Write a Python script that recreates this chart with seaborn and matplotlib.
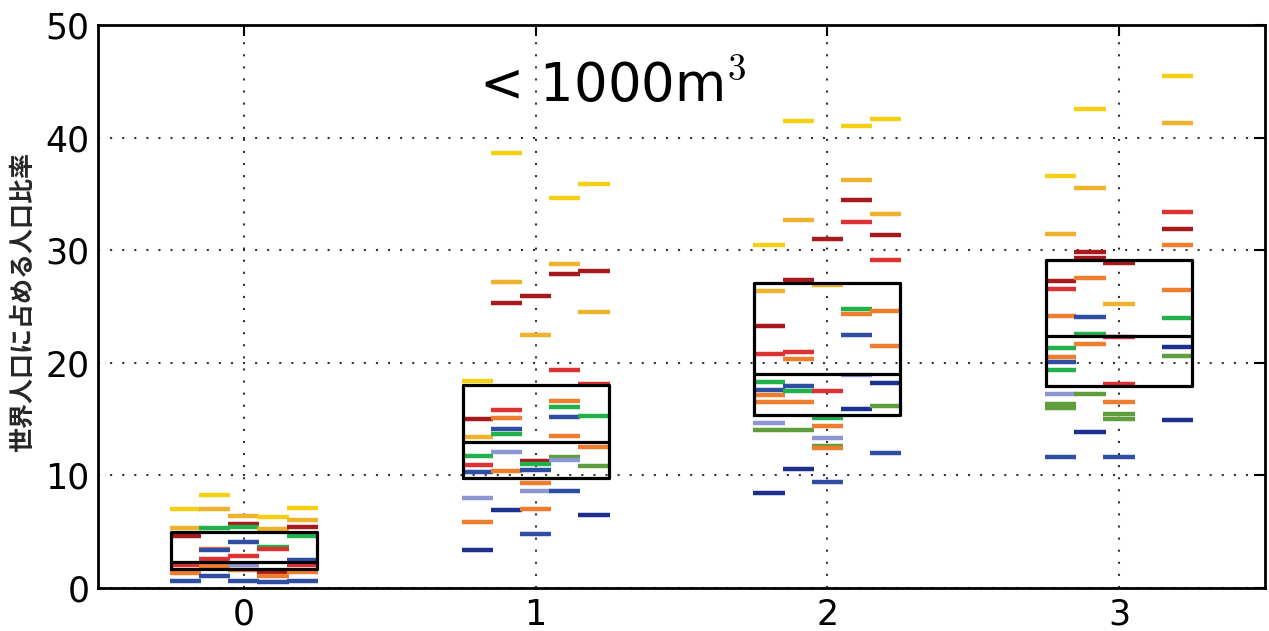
import numpy as np
import pandas as pd
import matplotlib
matplotlib.use("Agg")
import matplotlib.pyplot as plt
import seaborn as sns

# ---------------- data ----------------
categories = [0, 1, 2, 3]
tick_labels = ["0", "1", "2", "3"]
y_ticks = [0, 10, 20, 30, 40, 50]
title_text = "< 1000m$^3$"
y_label = "世界人口に占める人口比率"

palette = {
    "yellow": "#f4cf12",
    "amber": "#f0b22a",
    "orange": "#ee7d2e",
    "red": "#dc3232",
    "darkred": "#a6191d",
    "green": "#20b24a",
    "olive": "#5e9e3c",
    "blue": "#2d4ea3",
    "lightblue": "#8c97d2",
    "navy": "#1d2f8f",
}

# (column within group 0..4, colour key, value)
g0_dashes = [
    (0, "yellow", 7.0), (0, "amber", 5.35), (0, "darkred", 4.62), (0, "red", 2.05),
    (0, "orange", 1.3), (0, "blue", 0.62),
    (1, "yellow", 8.3), (1, "amber", 7.0), (1, "green", 5.3), (1, "orange", 3.5),
    (1, "blue", 3.35), (1, "red", 2.6), (1, "orange", 2.0), (1, "blue", 1.1),
    (2, "amber", 6.4), (2, "darkred", 5.7), (2, "green", 5.4), (2, "blue", 4.05),
    (2, "red", 2.85), (2, "lightblue", 2.05), (2, "orange", 1.6), (2, "blue", 0.65),
    (3, "yellow", 6.3), (3, "amber", 5.2), (3, "green", 3.6), (3, "red", 3.45),
    (3, "darkred", 1.4), (3, "orange", 1.05), (3, "blue", 0.55),
    (4, "yellow", 7.15), (4, "amber", 6.05), (4, "darkred", 5.4), (4, "green", 4.6),
    (4, "blue", 2.5), (4, "red", 2.05), (4, "orange", 1.45), (4, "blue", 0.65),
]
g1_dashes = [
    (0, "yellow", 18.4), (0, "darkred", 15.0), (0, "amber", 13.4), (0, "green", 11.7),
    (0, "red", 10.9), (0, "blue", 10.3), (0, "lightblue", 8.0), (0, "orange", 5.9),
    (0, "navy", 3.4),
    (1, "yellow", 38.6), (1, "amber", 27.2), (1, "darkred", 25.3), (1, "red", 15.8),
    (1, "orange", 15.1), (1, "blue", 14.1), (1, "green", 13.7), (1, "lightblue", 12.1),
    (1, "orange", 10.4), (1, "navy", 6.95),
    (2, "darkred", 25.9), (2, "amber", 22.5), (2, "darkred", 11.25), (2, "green", 11.0),
    (2, "blue", 10.5), (2, "orange", 9.35), (2, "lightblue", 8.65), (2, "orange", 7.0),
    (2, "blue", 4.8),
    (3, "yellow", 34.6), (3, "amber", 28.8), (3, "darkred", 27.9), (3, "red", 19.4),
    (3, "orange", 16.6), (3, "green", 16.1), (3, "blue", 15.2), (3, "orange", 13.5),
    (3, "olive", 11.6), (3, "lightblue", 11.4), (3, "blue", 8.6),
    (4, "yellow", 35.9), (4, "darkred", 28.2), (4, "amber", 24.5), (4, "red", 18.1),
    (4, "green", 15.3), (4, "orange", 12.5), (4, "olive", 10.8), (4, "navy", 6.5),
]
g2_dashes = [
    (0, "yellow", 30.5), (0, "amber", 26.4), (0, "darkred", 23.3), (0, "red", 20.8),
    (0, "green", 18.3), (0, "blue", 17.6), (0, "orange", 17.1), (0, "orange", 16.5),
    (0, "lightblue", 14.7), (0, "olive", 14.0), (0, "navy", 8.4),
    (1, "yellow", 41.5), (1, "amber", 32.7), (1, "darkred", 27.4), (1, "red", 21.0),
    (1, "orange", 20.3), (1, "blue", 17.9), (1, "green", 17.5), (1, "orange", 16.5),
    (1, "olive", 14.0), (1, "navy", 10.6),
    (2, "darkred", 31.0), (2, "amber", 26.9), (2, "red", 17.5), (2, "green", 15.1),
    (2, "orange", 14.4), (2, "lightblue", 13.3), (2, "olive", 12.6), (2, "orange", 12.4),
    (2, "blue", 9.45),
    (3, "yellow", 41.05), (3, "amber", 36.2), (3, "darkred", 34.5), (3, "red", 32.5),
    (3, "green", 24.8), (3, "orange", 24.3), (3, "blue", 22.5), (3, "lightblue", 18.9),
    (3, "navy", 15.9),
    (4, "yellow", 41.7), (4, "amber", 33.2), (4, "darkred", 31.35), (4, "red", 29.1),
    (4, "orange", 24.6), (4, "orange", 21.5), (4, "navy", 18.2), (4, "olive", 16.2),
    (4, "blue", 11.95),
]
g3_dashes = [
    (0, "yellow", 36.6), (0, "amber", 31.4), (0, "darkred", 27.3), (0, "red", 26.6),
    (0, "orange", 24.2), (0, "green", 21.3), (0, "orange", 20.5), (0, "blue", 20.1),
    (0, "green", 19.4), (0, "lightblue", 17.2), (0, "olive", 16.3), (0, "olive", 16.0),
    (0, "blue", 11.6),
    (1, "yellow", 42.5), (1, "amber", 35.55), (1, "darkred", 29.8), (1, "darkred", 29.3),
    (1, "orange", 27.5), (1, "blue", 24.1), (1, "green", 22.6), (1, "orange", 21.7),
    (1, "olive", 17.2), (1, "navy", 13.9),
    (2, "darkred", 28.9), (2, "amber", 25.25), (2, "red", 22.3), (2, "red", 18.1),
    (2, "orange", 16.5), (2, "olive", 15.5), (2, "olive", 15.0), (2, "blue", 11.6),
    (4, "yellow", 45.5), (4, "amber", 41.3), (4, "red", 33.4), (4, "darkred", 31.9),
    (4, "orange", 30.5), (4, "orange", 26.5), (4, "green", 23.95), (4, "navy", 21.4),
    (4, "olive", 20.6), (4, "navy", 14.9),
]

box_q1 = [1.66, 9.75, 15.35, 17.95]
box_median = [2.3, 13.0, 19.05, 22.35]
box_q3 = [5.0, 18.05, 27.05, 29.1]

# ---------------- style ----------------
sns.set_theme(style="white")
plt.rcParams["font.family"] = ["DejaVu Sans", "Noto Sans CJK JP"]
plt.rcParams["mathtext.fontset"] = "cm"

col_step = 0.1
n_cols = 5
rows = []
for g, dashes in zip(categories, [g0_dashes, g1_dashes, g2_dashes, g3_dashes]):
    for col, ckey, val in dashes:
        rows.append({"x": g + (col - (n_cols - 1) / 2) * col_step, "value": val, "color": ckey})
df = pd.DataFrame(rows)

fig = plt.figure(figsize=(12.69, 6.31), dpi=100)
ax = fig.add_axes([0.0772, 0.0681, 0.9196, 0.8922])

ax.set_xlim(-0.5, 3.5)
ax.set_ylim(0, 50)
px_per_unit = fig.get_figwidth() * fig.dpi * 0.9196 / 4.0
dash_pts = 1.07 * col_step * px_per_unit * 72.0 / fig.dpi

sns.scatterplot(data=df, x="x", y="value", hue="color", palette=palette,
                marker="_", s=dash_pts ** 2, linewidth=3.2, legend=False,
                ax=ax, zorder=3)

stats = [dict(med=m, q1=a, q3=b, whislo=a, whishi=b, fliers=[])
         for a, m, b in zip(box_q1, box_median, box_q3)]
ax.bxp(stats, positions=categories, widths=0.5, showcaps=False, showfliers=False,
       boxprops=dict(color="black", linewidth=2.3, zorder=4),
       medianprops=dict(color="black", linewidth=2.3, zorder=4),
       whiskerprops=dict(linewidth=0), manage_ticks=False)

ax.set_xlim(-0.5, 3.5)
ax.set_ylim(0, 50)
ax.set_xticks(categories)
ax.set_xticklabels(tick_labels)
ax.set_yticks(y_ticks)
ax.set_xlabel("")
ax.set_ylabel(y_label, fontsize=18, fontweight="bold", family=["Noto Sans CJK JP"])
ax.yaxis.set_label_coords(-0.054, 0.508)

ax.grid(True, color="#333333", linestyle=(0, (1, 4.8)), linewidth=1.5)
ax.set_axisbelow(True)
ax.tick_params(direction="in", length=8, width=1.5, top=True, right=True,
               labelsize=25, colors="black")
ax.tick_params(axis="x", pad=7)
ax.tick_params(axis="y", pad=6)
for sp in ax.spines.values():
    sp.set_color("black")
    sp.set_linewidth(2)

ax.text(0.805, 43.25, title_text, fontsize=38, ha="left", va="baseline", color="black")

fig.savefig("out.png", dpi=100)
